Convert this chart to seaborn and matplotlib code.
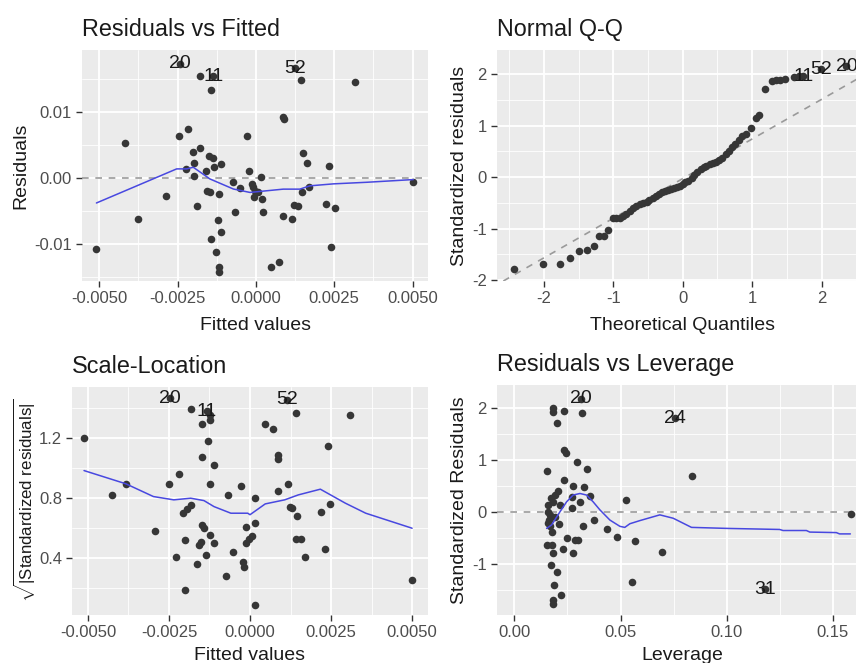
import matplotlib
matplotlib.use("Agg")
import matplotlib.pyplot as plt
import seaborn as sns
from matplotlib.ticker import FixedLocator

# ---------------- data ----------------
# Residuals vs Fitted
rvf_x = [-0.00509, -0.00418, -0.00376, -0.00287, -0.00245, -0.00216, -0.00179, -0.00144,
         -0.00202, -0.00177, -0.00198, -0.00223, -0.00198, -0.00149, -0.00138, -0.00160,
         -0.00135, -0.00110, -0.00187, -0.00155, -0.00145, -0.00118, -0.00144, -0.00120,
         -0.00110, -0.00126, -0.00118, -0.00118, -0.00072, -0.00066, -0.00051, -0.00027,
         -0.00021, -0.00011, -0.00009, -0.00002, 0.00007, -0.00006, 0.00017, 0.00019,
         0.00023, 0.00049, 0.00074, 0.00087, 0.00091, 0.00087, 0.00116, 0.00143,
         0.00149, 0.00162, 0.00121, 0.00133, 0.00146, 0.00170, 0.00222, 0.00234,
         0.00241, 0.00252, 0.00315, 0.00502]
rvf_y = [-0.0108, 0.00533, -0.0062, -0.0027, 0.00635, 0.0074, 0.01553, 0.0134,
         0.0039, 0.00457, 0.00228, 0.00137, 0.00025, 0.00325, 0.0030, 0.0011,
         0.0016, 0.0021, -0.0042, -0.0020, -0.0022, -0.0025, -0.0093, -0.0064,
         -0.0082, -0.0112, -0.0135, -0.0142, -0.00056, -0.0052, -0.0015, 0.00635,
         0.00107, -0.00086, -0.0014, -0.0020, -0.0022, -0.0029, 0.0001, -0.0032,
         -0.0052, -0.0135, -0.0127, 0.0093, 0.0090, -0.0058, -0.0063, 0.0148,
         0.00376, 0.00228, -0.0041, -0.0043, -0.0021, -0.0013, -0.0040, 0.0018,
         -0.0105, -0.0046, 0.0145, -0.00056]
rvf_lab = ["20", "11", "52"]
rvf_lab_x = [-0.00243, -0.00136, 0.00124]
rvf_lab_y = [0.0173, 0.0154, 0.0166]
rvf_smooth_x = [-0.00509, -0.00253, -0.00221, -0.00200, -0.00147, -0.00072, -0.00019,
                0.00023, 0.00087, 0.00140, 0.00172, 0.00247, 0.00353, 0.00502]
rvf_smooth_y = [-0.0038, 0.00137, 0.00137, 0.00162, -0.00015, -0.00168, -0.0022,
                -0.0020, -0.0017, -0.0017, -0.0012, -0.0009, -0.00066, -0.00025]

# Normal Q-Q
qq_x = [-2.43, -2.01, -1.77, -1.63, -1.49, -1.38, -1.28, -1.21, -1.13, -1.07,
        -1.00, -0.96, -0.91, -0.86, -0.81, -0.76, -0.71, -0.67, -0.62, -0.57,
        -0.52, -0.48, -0.43, -0.39, -0.34, -0.30, -0.26, -0.21, -0.17, -0.13,
        -0.08, -0.04, 0.00, 0.04, 0.08, 0.13, 0.17, 0.21, 0.26, 0.30,
        0.34, 0.39, 0.43, 0.48, 0.52, 0.57, 0.62, 0.67, 0.71, 0.76,
        0.81, 0.86, 0.91, 0.98, 1.06, 1.10, 1.19, 1.28, 1.34, 1.40,
        1.48, 1.60, 1.68]
qq_y = [-1.78, -1.69, -1.69, -1.58, -1.43, -1.41, -1.33, -1.15, -1.15, -1.03,
        -0.80, -0.80, -0.79, -0.75, -0.71, -0.66, -0.60, -0.56, -0.52, -0.50,
        -0.48, -0.45, -0.40, -0.36, -0.32, -0.29, -0.27, -0.26, -0.24, -0.22,
        -0.20, -0.17, -0.13, -0.10, -0.07, -0.02, 0.05, 0.10, 0.16, 0.19,
        0.22, 0.25, 0.27, 0.30, 0.33, 0.38, 0.45, 0.51, 0.58, 0.65,
        0.73, 0.79, 0.83, 0.96, 1.15, 1.20, 1.71, 1.86, 1.88, 1.89,
        1.90, 1.94, 1.96]
qq_lab = ["11", "52", "20"]
qq_lab_x = [1.74, 1.99, 2.36]
qq_lab_y = [1.96, 2.10, 2.15]
qq_line_slope = 0.77
qq_line_intercept = -0.03

# Scale-Location
sl_x = [-0.00512, -0.00426, -0.00383, -0.00292, -0.00249, -0.00220, -0.00227, -0.00202,
        -0.00202, -0.00206, -0.00194, -0.00183, -0.00183, -0.00163, -0.00157, -0.00150,
        -0.00147, -0.00147, -0.00147, -0.00142, -0.00137, -0.00131, -0.00123, -0.00123,
        -0.00123, -0.00123, -0.00111, -0.00111, -0.00069, -0.00074, -0.00052, -0.00027,
        -0.00022, -0.00017, -0.00012, -0.00012, -0.00002, 0.00006, 0.00014, 0.00016,
        0.00014, 0.00045, 0.00071, 0.00085, 0.00087, 0.00085, 0.00116, 0.00123,
        0.00130, 0.00142, 0.00146, 0.00142, 0.00156, 0.00170, 0.00219, 0.00232,
        0.00240, 0.00248, 0.00310, 0.00500]
sl_y = [1.200, 0.824, 0.896, 0.582, 0.896, 0.962, 0.407, 0.522,
        0.189, 0.700, 0.727, 0.756, 1.393, 0.362, 0.489, 0.511,
        1.293, 1.073, 0.622, 0.600, 0.422, 1.184, 1.318, 1.356,
        0.896, 0.556, 1.018, 0.504, 0.818, 0.282, 0.444, 0.884,
        0.373, 0.344, 0.611, 0.500, 0.527, 0.549, 0.638, 0.804,
        0.089, 1.293, 1.260, 1.089, 1.060, 0.849, 0.896, 0.744,
        0.733, 1.367, 0.684, 0.527, 0.531, 0.407, 0.711, 0.462,
        1.151, 0.760, 1.356, 0.256]
sl_lab = ["20", "11", "52"]
sl_lab_x = [-0.00248, -0.00133, 0.00113]
sl_lab_y = [1.467, 1.378, 1.456]
sl_smooth_x = [-0.00512, -0.00383, -0.00298, -0.00235, -0.00183, -0.00142, -0.00111,
               -0.00059, -0.00007, 0.00000, 0.00047, 0.00107, 0.00149, 0.00217,
               0.00294, 0.00357, 0.00500]
sl_smooth_y = [0.984, 0.896, 0.811, 0.789, 0.800, 0.784, 0.744, 0.700, 0.700, 0.690,
               0.762, 0.789, 0.822, 0.860, 0.767, 0.700, 0.600]

# Residuals vs Leverage
lev_x = [0.0183, 0.0183, 0.0235, 0.0199, 0.0317, 0.0235, 0.0243, 0.0293, 0.0155, 0.0343,
         0.0235, 0.0274, 0.0329, 0.0207, 0.0191, 0.0171, 0.0270, 0.0356, 0.0160, 0.0183,
         0.0215, 0.0309, 0.0270, 0.0160, 0.0168, 0.0165, 0.0160, 0.0168, 0.0176, 0.0191,
         0.0212, 0.0321, 0.0375, 0.0434, 0.0484, 0.0567, 0.0528, 0.0155, 0.0175, 0.0249,
         0.0285, 0.0301, 0.0180, 0.0230, 0.0274, 0.0171, 0.0199, 0.0186, 0.0218, 0.0183,
         0.0180, 0.0552, 0.0697, 0.0837, 0.1586]
lev_y = [1.99, 1.92, 1.95, 1.72, 1.90, 1.19, 1.14, 0.97, 0.80, 0.82,
         0.61, 0.50, 0.48, 0.41, 0.33, 0.27, 0.30, 0.31, 0.14, 0.20,
         0.14, 0.19, 0.08, 0.01, -0.05, -0.15, -0.21, -0.27, -0.37, -0.10,
         -0.22, -0.26, -0.15, -0.33, -0.47, -0.56, 0.24, -0.63, -0.63, -0.50,
         -0.53, -0.53, -0.79, -0.71, -0.79, -1.01, -1.14, -1.39, -1.58, -1.68,
         -1.76, -1.33, -0.77, 0.70, -0.04]
lev_lab = ["20", "24", "31"]
lev_lab_x = [0.0315, 0.0755, 0.1179]
lev_lab_y = [2.18, 1.80, -1.48]
lev_smooth_x = [0.0152, 0.0176, 0.0215, 0.0246, 0.0277, 0.0309, 0.0340, 0.0371, 0.0403,
                0.0450, 0.0497, 0.0520, 0.0544, 0.0591, 0.0685, 0.0748, 0.0834, 0.1006,
                0.1249, 0.1265, 0.1375, 0.1391, 0.1516, 0.1531, 0.1582]
lev_smooth_y = [-0.31, -0.24, 0.01, 0.20, 0.33, 0.36, 0.33, 0.20, 0.045,
                -0.15, -0.27, -0.29, -0.22, -0.16, -0.05, -0.115, -0.29, -0.31,
                -0.33, -0.35, -0.35, -0.38, -0.39, -0.415, -0.415]

# ---------------- style ----------------
sns.set_theme(style="darkgrid", rc={
    "axes.facecolor": "#EBEBEB",
    "figure.facecolor": "white",
    "grid.color": "white",
    "axes.edgecolor": "none",
    "axes.linewidth": 0,
})
plt.rcParams["font.family"] = ["Liberation Sans", "DejaVu Sans"]
plt.rcParams["mathtext.fontset"] = "custom"
plt.rcParams["mathtext.rm"] = "Liberation Sans"
plt.rcParams["mathtext.it"] = "Liberation Sans:italic"
plt.rcParams["mathtext.bf"] = "Liberation Sans:bold"

W, H = 856, 663
fig = plt.figure(figsize=(W / 100, H / 100), dpi=100)

PT_COL = "#363636"
SMOOTH_COL = "#4848E0"
DASH_COL = "#9A9A9A"
TICK_FS = 12
LAB_FS = 14
TITLE_FS = 16.8
ANN_FS = 14
PT_S = 30


def add_ax(l, t, r, b):
    return fig.add_axes([l / W, 1 - b / H, (r - l) / W, (b - t) / H])


def style(ax, title, xlabel, ylabel, xmaj, ymaj, xmin, ymin, xtl, ytl,
          yl_x, xl_y, title_pad=10, ylab_fs=LAB_FS):
    ax.xaxis.set_major_locator(FixedLocator(xmaj))
    ax.yaxis.set_major_locator(FixedLocator(ymaj))
    ax.xaxis.set_minor_locator(FixedLocator(xmin))
    ax.yaxis.set_minor_locator(FixedLocator(ymin))
    ax.set_xticklabels(xtl)
    ax.set_yticklabels(ytl)
    ax.grid(which="major", color="white", lw=1.3)
    ax.grid(which="minor", color="white", lw=0.6)
    ax.tick_params(which="major", length=4.5, width=1.0, color="#333333",
                   labelcolor="#4D4D4D", labelsize=TICK_FS, pad=2.5,
                   bottom=True, left=True)
    ax.tick_params(which="minor", length=0)
    for s in ax.spines.values():
        s.set_visible(False)
    ax.set_title(title, loc="left", fontsize=TITLE_FS, color="#1a1a1a", pad=title_pad)
    ax.set_xlabel(xlabel, fontsize=LAB_FS, color="#1a1a1a")
    ax.set_ylabel(ylabel, fontsize=ylab_fs, color="#1a1a1a")
    ax.xaxis.label.set_va("baseline")
    ax.xaxis.set_label_coords(0.5, xl_y)
    ax.yaxis.label.set_va("center")
    ax.yaxis.set_label_coords(yl_x, 0.5)


def labels(ax, names, xs, ys):
    sns.scatterplot(x=xs, y=ys, ax=ax, color=PT_COL, s=PT_S, linewidth=0, zorder=3)
    for n, x, y in zip(names, xs, ys):
        ax.text(x, y, n, fontsize=ANN_FS, color="#1a1a1a", ha="center",
                va="center", zorder=4)


# ---- Panel 1: Residuals vs Fitted ----
ax1 = add_ax(81.7, 50, 428.3, 281)
ax1.set_xlim(-0.00556, 0.0055)
ax1.set_ylim(-0.01563, 0.0194)
ax1.axhline(0, color=DASH_COL, lw=1.2, ls=(0, (4, 4)), zorder=2)
sns.scatterplot(x=rvf_x, y=rvf_y, ax=ax1, color=PT_COL, s=PT_S, linewidth=0, zorder=3)
sns.lineplot(x=rvf_smooth_x, y=rvf_smooth_y, ax=ax1, color=SMOOTH_COL, lw=1.1,
             sort=False, estimator=None, zorder=4)
labels(ax1, rvf_lab, rvf_lab_x, rvf_lab_y)
style(ax1, "Residuals vs Fitted", "Fitted values", "Residuals",
      [-0.005, -0.0025, 0, 0.0025, 0.005], [-0.01, 0, 0.01],
      [-0.00375, -0.00125, 0.00125, 0.00375], [-0.015, -0.005, 0.005, 0.015],
      ["-0.0050", "-0.0025", "0.0000", "0.0025", "0.0050"],
      ["-0.01", "0.00", "0.01"], -0.175, -0.212)

# ---- Panel 2: Normal Q-Q ----
ax2 = add_ax(496.7, 50, 868, 281)
ax2.set_xlim(-2.68, 2.67)
ax2.set_ylim(-2.02, 2.47)
ax2.axline((0, qq_line_intercept), slope=qq_line_slope, color=DASH_COL, lw=1.2,
           ls=(0, (4, 4)), zorder=2)
sns.scatterplot(x=qq_x, y=qq_y, ax=ax2, color=PT_COL, s=PT_S, linewidth=0, zorder=3)
labels(ax2, qq_lab, qq_lab_x, qq_lab_y)
style(ax2, "Normal Q-Q", "Theoretical Quantiles", "Standardized residuals",
      [-2, -1, 0, 1, 2], [-2, -1, 0, 1, 2],
      [-2.5, -1.5, -0.5, 0.5, 1.5, 2.5], [-1.5, -0.5, 0.5, 1.5],
      ["-2", "-1", "0", "1", "2"], ["-2", "-1", "0", "1", "2"],
      -0.1, -0.212)

# ---- Panel 3: Scale-Location ----
ax3 = add_ax(71.7, 386.5, 428.3, 615)
ax3.set_xlim(-0.0055, 0.0055)
ax3.set_ylim(0.022, 1.544)
sns.scatterplot(x=sl_x, y=sl_y, ax=ax3, color=PT_COL, s=PT_S, linewidth=0, zorder=3)
sns.lineplot(x=sl_smooth_x, y=sl_smooth_y, ax=ax3, color=SMOOTH_COL, lw=1.1,
             sort=False, estimator=None, zorder=4)
labels(ax3, sl_lab, sl_lab_x, sl_lab_y)
style(ax3, "Scale-Location", "Fitted values",
      r"$\sqrt{|\mathrm{Standardized\ residuals}|}$",
      [-0.005, -0.0025, 0, 0.0025, 0.005], [0.4, 0.8, 1.2],
      [-0.00375, -0.00125, 0.00125, 0.00375], [0.2, 0.6, 1.0, 1.4],
      ["-0.0050", "-0.0025", "0.0000", "0.0025", "0.0050"],
      ["0.4", "0.8", "1.2"], -0.13, -0.199, ylab_fs=12.2)

# ---- Panel 4: Residuals vs Leverage ----
ax4 = add_ax(496.7, 385, 868, 615)
ax4.set_xlim(-0.0083, 0.1665)
ax4.set_ylim(-1.97, 2.44)
ax4.axhline(0, color=DASH_COL, lw=1.2, ls=(0, (4, 4)), zorder=2)
sns.scatterplot(x=lev_x, y=lev_y, ax=ax4, color=PT_COL, s=PT_S, linewidth=0, zorder=3)
sns.lineplot(x=lev_smooth_x, y=lev_smooth_y, ax=ax4, color=SMOOTH_COL, lw=1.1,
             sort=False, estimator=None, zorder=4)
labels(ax4, lev_lab, lev_lab_x, lev_lab_y)
style(ax4, "Residuals vs Leverage", "Leverage", "Standardized Residuals",
      [0, 0.05, 0.10, 0.15], [-2, -1, 0, 1, 2],
      [0.025, 0.075, 0.125], [-1.5, -0.5, 0.5, 1.5],
      ["0.00", "0.05", "0.10", "0.15"], ["-2", "-1", "0", "1", "2"],
      -0.1, -0.197)

fig.savefig("out.png", dpi=100)
